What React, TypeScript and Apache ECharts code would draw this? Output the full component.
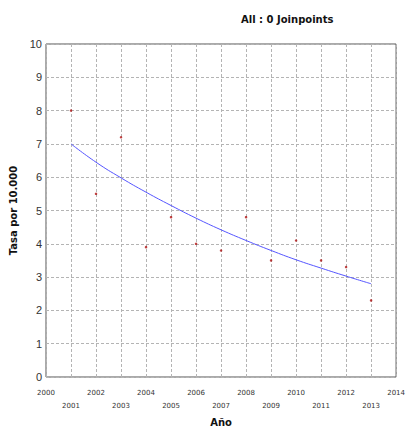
import React, { useEffect, useRef } from "react";
import * as echarts from "echarts";

const years = [2001, 2002, 2003, 2004, 2005, 2006, 2007, 2008, 2009, 2010, 2011, 2012, 2013];
const observed = [8.0, 5.5, 7.2, 3.9, 4.8, 4.0, 3.8, 4.8, 3.5, 4.1, 3.5, 3.3, 2.3];
const fitted = [7.0, 6.45, 5.98, 5.55, 5.15, 4.77, 4.42, 4.1, 3.8, 3.52, 3.27, 3.03, 2.8];

export default function App() {
  const ref = useRef<HTMLDivElement>(null);
  useEffect(() => {
    if (!ref.current) return;
    const chart = echarts.init(ref.current, null, { renderer: "svg" });
    chart.setOption({
      animation: false,
      backgroundColor: "#ffffff",
      title: {
        text: "All : 0 Joinpoints",
        left: 236,
        top: 9,
        textStyle: { fontFamily: "DejaVu Sans", fontSize: 10, fontWeight: "bold", color: "#111" },
      },
      grid: {
        left: 45,
        top: 44,
        right: 11,
        bottom: 51,
        show: true,
        borderColor: "#555",
        borderWidth: 1,
      },
      xAxis: {
        type: "value",
        min: 2000,
        max: 2014,
        interval: 1,
        name: "Año",
        nameLocation: "middle",
        nameGap: 40,
        nameTextStyle: { fontFamily: "DejaVu Sans", fontSize: 10, fontWeight: "bold", color: "#111" },
        axisLine: { show: false },
        axisTick: { show: false },
        axisLabel: {
          fontFamily: "DejaVu Sans",
          fontSize: 7,
          color: "#333",
          margin: 9,
          lineHeight: 13,
          formatter: (v: number) => (v % 2 === 1 ? "\n" + v : String(v)),
        },
        splitLine: { show: true, lineStyle: { color: "#b4b4b4", type: [3, 2], width: 1 } },
      },
      yAxis: {
        type: "value",
        min: 0,
        max: 10,
        interval: 1,
        name: "Tasa por 10.000",
        nameLocation: "middle",
        nameGap: 28,
        nameTextStyle: { fontFamily: "DejaVu Sans", fontSize: 10, fontWeight: "bold", color: "#111" },
        axisLine: { show: false },
        axisTick: { show: false },
        axisLabel: { fontFamily: "Liberation Sans", fontSize: 11, color: "#333", margin: 4 },
        splitLine: { show: true, lineStyle: { color: "#b4b4b4", type: [3, 2], width: 1 } },
      },
      series: [
        {
          type: "line",
          data: years.map((y, i) => [y, fitted[i]]),
          symbol: "none",
          smooth: true,
          lineStyle: { color: "#5555ff", width: 1 },
          z: 2,
        },
        {
          type: "scatter",
          data: years.map((y, i) => [y, observed[i]]),
          symbol: "circle",
          symbolSize: 2.5,
          itemStyle: { color: "#b01010" },
          z: 3,
        },
      ],
    });
    return () => chart.dispose();
  }, []);
  return (
    <div
      ref={ref}
      style={{ position: "fixed", left: 0, top: 0, width: 408, height: 432 }}
    />
  );
}
